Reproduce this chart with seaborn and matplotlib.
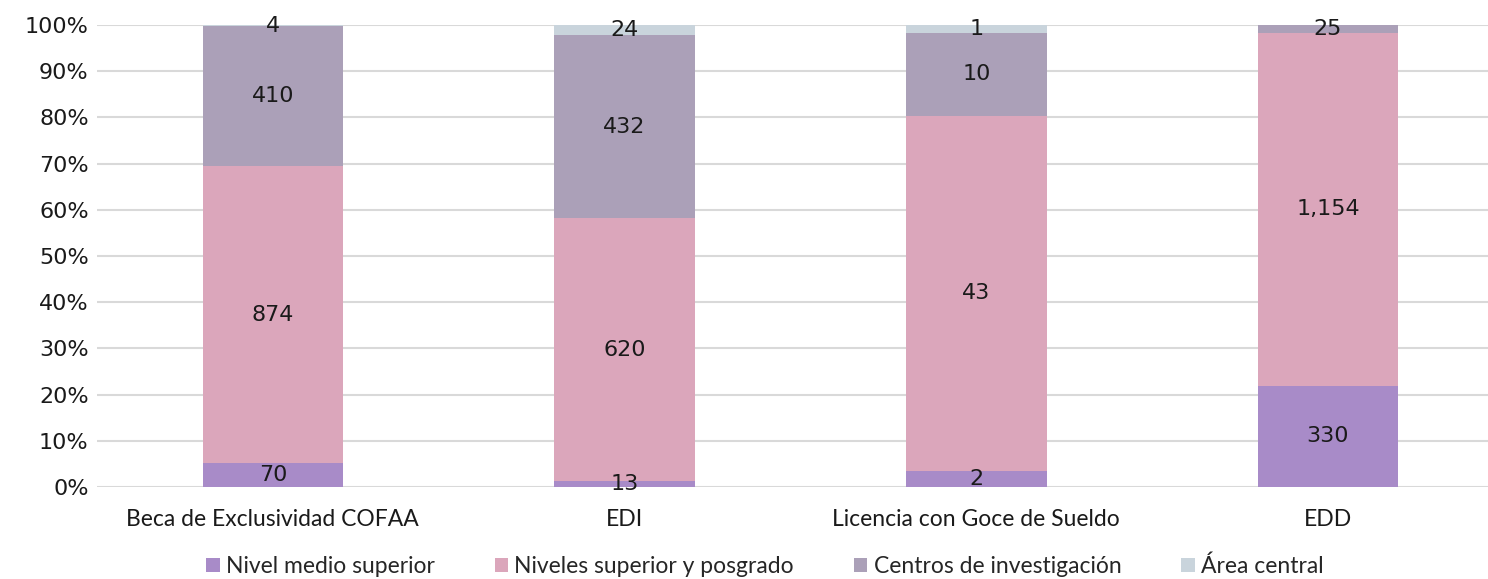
import numpy as np
import pandas as pd
import matplotlib
matplotlib.use("Agg")
import matplotlib.pyplot as plt
import seaborn as sns
from matplotlib.patches import Patch

categories = ["Beca de Exclusividad COFAA", "EDI", "Licencia con Goce de Sueldo", "EDD"]
series = ["Nivel medio superior", "Niveles superior y posgrado", "Centros de investigación", "Área central"]
nivel_medio = [70, 13, 2, 330]
niveles_sup = [874, 620, 43, 1154]
centros = [410, 432, 10, 25]
area_central = [4, 24, 1, 0]
colors = ["#A88BC8", "#DBA6BB", "#ABA0B8", "#C9D4DC"]

sns.set_theme(style="white")
plt.rcParams['font.family'] = ['DejaVu Sans']

vals = np.array([nivel_medio, niveles_sup, centros, area_central], dtype=float)
tot = vals.sum(axis=0)
pct = vals / tot * 100
cum = np.cumsum(pct, axis=0)

fig = plt.figure(figsize=(14.88, 5.79), dpi=100)
ax = fig.add_axes([97/1488, 1 - 487/579, (1488-97)/1488, (487-25)/579])

# draw from top of stack down so lower segments overlay
for i in range(3, -1, -1):
    df = pd.DataFrame({"cat": categories, "val": cum[i]})
    sns.barplot(data=df, x="cat", y="val", color=colors[i], saturation=1,
                width=0.4, ax=ax, edgecolor="none", linewidth=0, zorder=2)

for i in range(4):
    for j in range(4):
        if vals[i, j] <= 0:
            continue
        y = cum[i, j] - pct[i, j] / 2
        ax.text(j, y, f"{int(vals[i, j]):,}", ha="center", va="center",
                fontsize=16, color="#1a1a1a", zorder=5)

ax.set_ylim(0, 100)
ax.set_xlim(-0.5, 3.455)
ax.set_yticks(np.arange(0, 101, 10))
ax.set_yticklabels([f"{v}%" for v in range(0, 101, 10)], fontsize=16, color="#1a1a1a")
ax.yaxis.grid(True, color="#D9D9D9", linewidth=1.5, zorder=0)
ax.set_axisbelow(True)
ax.set_xlabel("")
ax.set_ylabel("")
for s in ax.spines.values():
    s.set_visible(False)
ax.tick_params(axis="y", length=0, pad=6)
ax.tick_params(axis="x", length=0, pad=16)
ax.set_xticks(range(4))
ax.set_xticklabels(categories, fontsize=16.5, family="Lato", color="#1a1a1a")

handles = [Patch(facecolor=c, edgecolor="none") for c in colors]
fig.legend(handles, series, loc="lower center", bbox_to_anchor=(0.514, -0.028), ncol=4,
           frameon=False, prop={"family": "Lato", "size": 16.5},
           handlelength=0.6, handleheight=0.6, handletextpad=0.27, columnspacing=2.6,
           borderpad=0.3)

fig.savefig("out.png", dpi=100)
